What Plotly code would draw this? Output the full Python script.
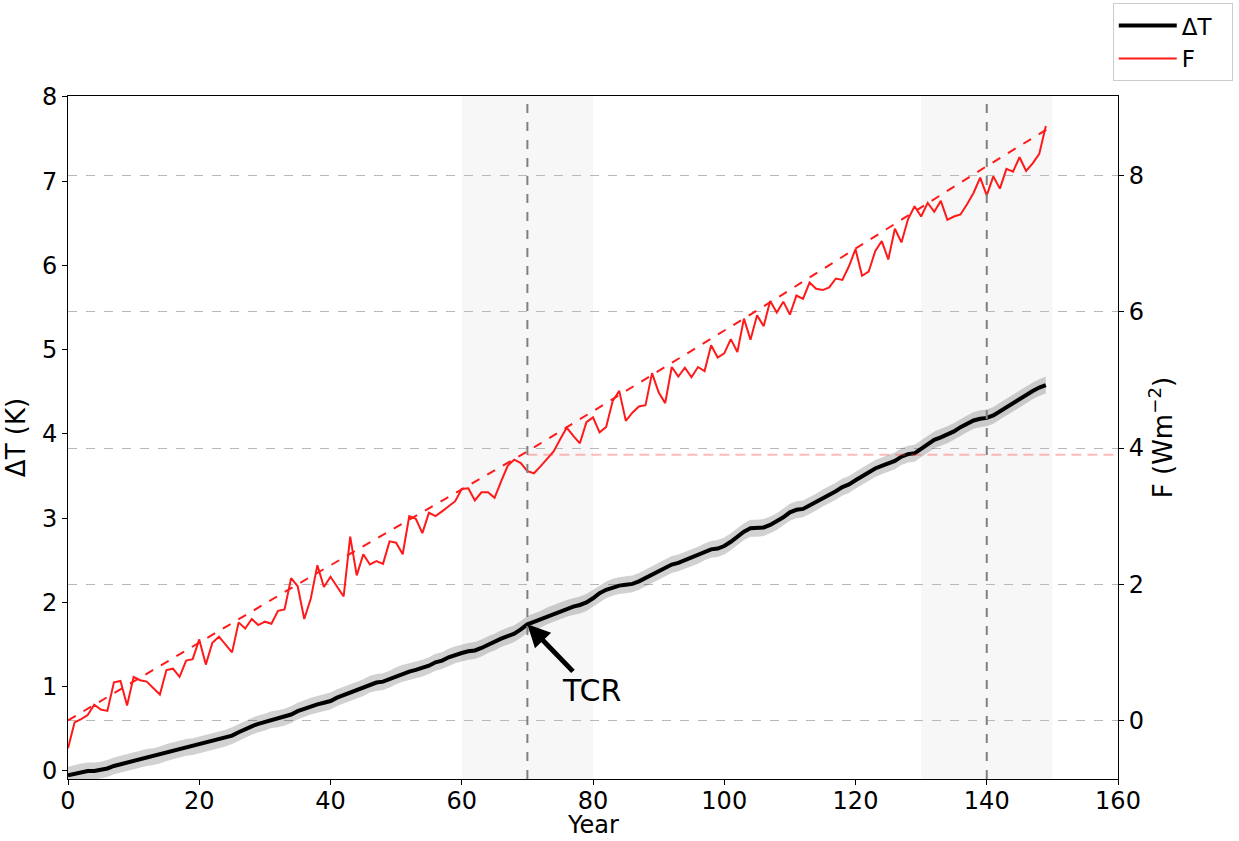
import plotly.graph_objects as go

years = list(range(150))

F = [-0.41, -0.03, 0.02, 0.08, 0.23, 0.16, 0.14, 0.56, 0.58, 0.22,
     0.64, 0.59, 0.57, 0.47, 0.38, 0.74, 0.76, 0.64, 0.88, 0.90,
     1.19, 0.82, 1.14, 1.23, 1.11, 1.00, 1.44, 1.35, 1.49, 1.40,
     1.45, 1.42, 1.61, 1.63, 2.09, 1.97, 1.49, 1.79, 2.28, 1.96,
     2.11, 1.97, 1.82, 2.70, 2.13, 2.44, 2.29, 2.34, 2.30, 2.63,
     2.61, 2.44, 3.00, 2.96, 2.75, 3.05, 3.00, 3.07, 3.15, 3.22,
     3.40, 3.41, 3.23, 3.35, 3.35, 3.27, 3.51, 3.74, 3.83, 3.78,
     3.66, 3.63, 3.73, 3.84, 3.95, 4.13, 4.30, 4.18, 4.07, 4.38,
     4.45, 4.23, 4.31, 4.69, 4.84, 4.40, 4.52, 4.61, 4.63, 5.10,
     4.82, 4.66, 5.19, 5.05, 5.18, 5.04, 5.19, 5.13, 5.51, 5.33,
     5.39, 5.60, 5.41, 5.90, 5.59, 5.95, 5.79, 6.16, 5.99, 6.15,
     5.96, 6.24, 6.19, 6.43, 6.34, 6.32, 6.36, 6.49, 6.47, 6.67,
     6.92, 6.53, 6.59, 6.89, 7.04, 6.77, 7.22, 7.02, 7.36, 7.55,
     7.40, 7.60, 7.47, 7.63, 7.35, 7.40, 7.43, 7.58, 7.75, 7.97,
     7.71, 7.99, 7.81, 8.10, 8.06, 8.27, 8.07, 8.18, 8.32, 8.73]

dT = [-0.05, -0.03, -0.01, 0.00, 0.00, 0.01, 0.03, 0.06, 0.08, 0.10,
      0.12, 0.14, 0.16, 0.17, 0.19, 0.22, 0.24, 0.26, 0.28, 0.29,
      0.31, 0.33, 0.35, 0.37, 0.39, 0.42, 0.46, 0.50, 0.53, 0.56,
      0.58, 0.61, 0.62, 0.64, 0.67, 0.71, 0.74, 0.77, 0.79, 0.81,
      0.83, 0.87, 0.90, 0.93, 0.96, 0.99, 1.03, 1.05, 1.06, 1.09,
      1.13, 1.16, 1.18, 1.20, 1.22, 1.25, 1.29, 1.31, 1.35, 1.38,
      1.40, 1.42, 1.43, 1.46, 1.50, 1.53, 1.57, 1.60, 1.63, 1.68,
      1.74, 1.77, 1.80, 1.84, 1.87, 1.90, 1.93, 1.95, 1.97, 2.00,
      2.05, 2.11, 2.15, 2.18, 2.20, 2.21, 2.22, 2.25, 2.29, 2.33,
      2.37, 2.41, 2.45, 2.47, 2.50, 2.53, 2.56, 2.60, 2.63, 2.64,
      2.67, 2.72, 2.78, 2.84, 2.88, 2.88, 2.89, 2.92, 2.96, 3.01,
      3.07, 3.10, 3.11, 3.15, 3.19, 3.24, 3.28, 3.32, 3.37, 3.40,
      3.45, 3.50, 3.55, 3.59, 3.62, 3.65, 3.68, 3.73, 3.76, 3.77,
      3.82, 3.88, 3.93, 3.96, 3.99, 4.03, 4.08, 4.12, 4.16, 4.18,
      4.19, 4.22, 4.27, 4.32, 4.37, 4.42, 4.47, 4.51, 4.55, 4.58]

dT_spread = 0.10  # half-width of the grey band (K)

trend_years = [0, 35, 70, 105, 140, 150]
trend_F = [0.00, 2.00, 3.95, 6.02, 8.14, 8.73]

F_ref_years = [70, 160]
F_ref = [3.90, 3.90]

shade_windows = [(60, 80), (130, 150)]
marker_years = [70, 140]
tcr_year = 70
tcr_value = dT[70]

FONT = "DejaVu Sans"
PAD = "\u00a0\u00a0"

fig = go.Figure()

upper = [v + dT_spread for v in dT]
lower = [v - dT_spread for v in dT]
fig.add_trace(go.Scatter(x=years, y=upper, mode="lines", line=dict(width=0),
                         showlegend=False, hoverinfo="skip"))
fig.add_trace(go.Scatter(x=years, y=lower, mode="lines", line=dict(width=0),
                         fill="tonexty", fillcolor="rgba(0,0,0,0.18)",
                         showlegend=False, hoverinfo="skip"))
fig.add_trace(go.Scatter(x=years, y=dT, mode="lines", name="ΔT" + PAD,
                         line=dict(color="black", width=4)))
fig.add_trace(go.Scatter(x=years, y=F, mode="lines", name="F" + PAD, yaxis="y2",
                         line=dict(color="#ff1a1a", width=2)))
fig.add_trace(go.Scatter(x=trend_years, y=trend_F, mode="lines", yaxis="y2",
                         showlegend=False,
                         line=dict(color="#ff1a1a", width=2, dash="dash")))
fig.add_trace(go.Scatter(x=F_ref_years, y=F_ref, mode="lines", yaxis="y2",
                         showlegend=False,
                         line=dict(color="rgba(255,60,60,0.35)", width=2,
                                   dash="10px,6px")))

shapes = []
for a, b in shade_windows:
    shapes.append(dict(type="rect", xref="x", yref="paper", x0=a, x1=b, y0=0, y1=1,
                       fillcolor="#f7f7f7", line=dict(width=0), layer="below"))
for m in marker_years:
    shapes.append(dict(type="line", xref="x", yref="paper", x0=m, x1=m, y0=0, y1=1,
                       line=dict(color="#808080", width=2, dash="dash"), layer="above"))

fig.update_layout(
    width=1239, height=841,
    margin=dict(l=68, r=121, t=96, b=62, autoexpand=False),
    paper_bgcolor="white", plot_bgcolor="rgba(0,0,0,0)",
    font=dict(family=FONT, size=22, color="black"),
    shapes=shapes,
    showlegend=True,
    legend=dict(x=0.995, y=1.136, xanchor="left", yanchor="top",
                traceorder="normal", itemwidth=58,
                bordercolor="#cccccc", borderwidth=1, bgcolor="white",
                font=dict(size=23), tracegroupgap=4),
    xaxis=dict(range=[0, 160], tickvals=list(range(0, 161, 20)),
               showline=True, linecolor="black", linewidth=1, mirror=True,
               ticks="outside", ticklen=5, tickcolor="black",
               tickfont=dict(size=24), ticklabelstandoff=-5,
               showgrid=False, zeroline=False),
    yaxis=dict(range=[-0.095, 8.01], tickvals=list(range(0, 9)),
               showline=True, linecolor="black", linewidth=1,
               ticks="outside", ticklen=5, tickcolor="black",
               tickfont=dict(size=24),
               showgrid=False, zeroline=False,
               title=dict(text="ΔT (K)", standoff=8)),
    yaxis2=dict(range=[-0.86, 9.17], tickvals=[0, 2, 4, 6, 8],
                overlaying="y", side="right",
                showline=True, linecolor="black", linewidth=1,
                ticks="outside", ticklen=5, tickcolor="black",
                tickfont=dict(size=24),
                showgrid=True, gridcolor="#b8b8b8", griddash="dash", gridwidth=1,
                zeroline=False,
                title=dict(text="F (Wm<sup>−2</sup>)", standoff=10)),
    annotations=[
        dict(x=tcr_year, y=tcr_value, xref="x", yref="y",
             text="TCR", showarrow=True, ax=64, ay=66,
             arrowhead=2, arrowsize=0.9, arrowwidth=5, arrowcolor="black",
             font=dict(size=30)),
        dict(x=0.5, y=-0.067, xref="paper", yref="paper", text="Year",
             showarrow=False, xanchor="center", yanchor="middle",
             font=dict(size=24)),
    ],
)

fig.write_html("out.html")
